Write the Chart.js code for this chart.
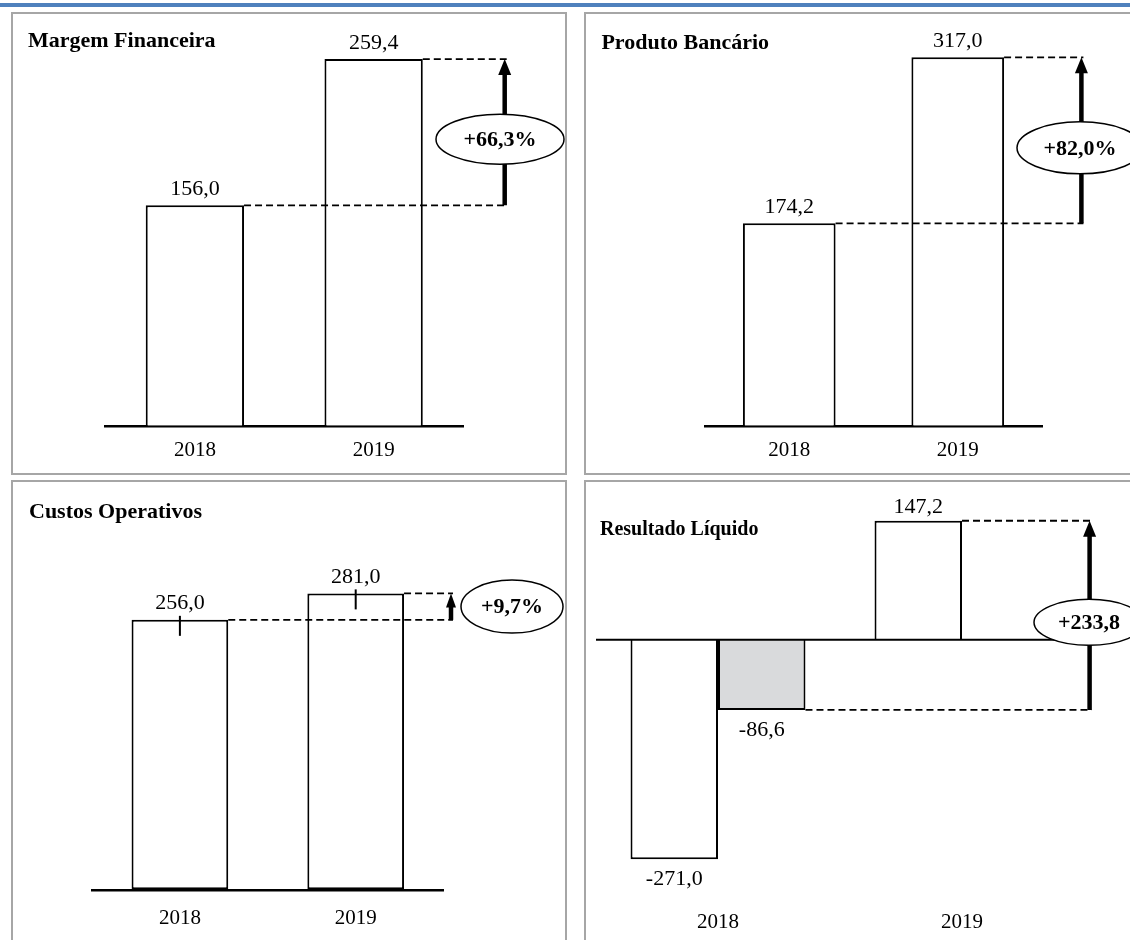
<!DOCTYPE html>
<html>
<head>
<meta charset="utf-8">
<script src="https://cdn.jsdelivr.net/npm/chart.js@4.4.1/dist/chart.umd.min.js"></script>
<style>
  html, body { margin: 0; padding: 0; background: #fff; overflow: hidden; width: 1130px; height: 940px; }
  #band { position: absolute; left: 0; top: 3px; width: 1130px; height: 4px; background: #4f81bd; }
  .panel { position: absolute; }
</style>
</head>
<body>
<div id="band"></div>
<div class="panel" style="left:11px;top:12px"><canvas id="margem" width="556" height="463"></canvas></div>
<div class="panel" style="left:584px;top:12px"><canvas id="produto" width="560" height="463"></canvas></div>
<div class="panel" style="left:11px;top:480px"><canvas id="custos" width="556" height="470"></canvas></div>
<div class="panel" style="left:584px;top:480px"><canvas id="resultado" width="560" height="470"></canvas></div>
<script>
const years = ['2018', '2019'];

const margemValues = [156.0, 259.4];
const produtoValues = [174.2, 317.0];
const custosValues = [256.0, 281.0];
const resultadoValues = [-271.0, 147.2];
const resultadoAjustado = [-86.6, null];

const margemChange = '+66,3%';
const produtoChange = '+82,0%';
const custosChange = '+9,7%';
const resultadoChange = '+233,8';

const SERIF = '"Liberation Serif", "Times New Roman", serif';

// 156.0 -> "156,0"
function fmt(v) {
  return v.toFixed(1).replace('.', ',');
}

// Frame, title, value labels and the variation arrow for each panel
const panelDecor = {
  id: 'panelDecor',
  beforeDraw(chart, args, o) {
    const ctx = chart.ctx;
    ctx.save();
    ctx.strokeStyle = '#a6a6a6';
    ctx.lineWidth = 2;
    ctx.strokeRect(1, 1, chart.width - 2, chart.height - 2);
    ctx.fillStyle = '#000';
    ctx.font = 'bold ' + o.titleSize + 'px ' + SERIF;
    ctx.textBaseline = 'alphabetic';
    ctx.fillText(o.title, o.titleX, o.titleY);
    ctx.restore();
  },
  afterDatasetsDraw(chart, args, o) {
    const ctx = chart.ctx;
    const area = chart.chartArea;
    const y = chart.scales.y;
    ctx.save();

    if (o.zeroLine) {
      ctx.beginPath();
      ctx.strokeStyle = '#000';
      ctx.lineWidth = 2;
      ctx.moveTo(area.left, y.getPixelForValue(0));
      ctx.lineTo(area.right, y.getPixelForValue(0));
      ctx.stroke();
    }

    // value labels above / below every bar
    ctx.fillStyle = '#000';
    ctx.strokeStyle = '#000';
    ctx.font = '22px ' + SERIF;
    ctx.textAlign = 'center';
    ctx.textBaseline = 'alphabetic';
    chart.data.datasets.forEach((ds, i) => {
      chart.getDatasetMeta(i).data.forEach((bar, j) => {
        const v = ds.data[j];
        if (v === null) return;
        if (v >= 0) ctx.fillText(fmt(v), bar.x, bar.y - o.labelGap);
        else ctx.fillText(fmt(v), bar.x, bar.y + 26);
        if (o.marks) {
          ctx.beginPath();
          ctx.lineWidth = 2;
          ctx.moveTo(bar.x, bar.y - 4);
          ctx.lineTo(bar.x, bar.y + 16);
          ctx.stroke();
        }
      });
    });

    const fromBar = chart.getDatasetMeta(o.from[0]).data[o.from[1]];
    const toBar = chart.getDatasetMeta(o.to[0]).data[o.to[1]];
    const yFrom = fromBar.y;
    const yTo = toBar.y;
    const ax = o.arrowX;

    // dashed guides from the bar tops to the arrow
    ctx.setLineDash([7, 4]);
    ctx.lineWidth = 1.8;
    ctx.beginPath();
    ctx.moveTo(fromBar.x + fromBar.width / 2, yFrom);
    ctx.lineTo(ax + 2, yFrom);
    ctx.moveTo(toBar.x + toBar.width / 2, yTo);
    ctx.lineTo(ax + 2, yTo);
    ctx.stroke();
    ctx.setLineDash([]);

    // arrow
    ctx.lineWidth = 4.5;
    ctx.beginPath();
    ctx.moveTo(ax, yFrom);
    ctx.lineTo(ax, yTo + o.headH - 1);
    ctx.stroke();
    ctx.beginPath();
    ctx.moveTo(ax, yTo);
    ctx.lineTo(ax - o.headW / 2, yTo + o.headH);
    ctx.lineTo(ax + o.headW / 2, yTo + o.headH);
    ctx.closePath();
    ctx.fill();

    // bubble with the change
    const ey = (yFrom + yTo) / 2 + o.ellipseDy;
    ctx.beginPath();
    ctx.ellipse(o.ellipseX, ey, o.rx, o.ry, 0, 0, Math.PI * 2);
    ctx.fillStyle = '#fff';
    ctx.fill();
    ctx.lineWidth = 1.5;
    ctx.stroke();
    ctx.fillStyle = '#000';
    ctx.font = 'bold 22px ' + SERIF;
    ctx.textBaseline = 'middle';
    ctx.fillText(o.change, o.ellipseX, ey + 1);

    ctx.restore();
  }
};

function whiteBars(values, extra) {
  return Object.assign({
    data: values,
    backgroundColor: '#ffffff',
    borderColor: '#000000',
    borderWidth: 2,
    barPercentage: 0.55,
    categoryPercentage: 1
  }, extra || {});
}

function buildChart(id, datasets, yMin, yMax, padding, tickPad, decor) {
  return new Chart(document.getElementById(id), {
    type: 'bar',
    data: { labels: years, datasets: datasets },
    options: {
      responsive: false,
      animation: false,
      layout: { padding: padding },
      plugins: {
        legend: { display: false },
        tooltip: { enabled: false },
        panelDecor: decor
      },
      scales: {
        x: {
          z: 1,
          grid: { display: false, drawTicks: false },
          border: { display: !decor.zeroLine, color: '#000', width: 2.5 },
          ticks: { color: '#000', padding: tickPad, font: { family: SERIF, size: 21 } }
        },
        y: { display: false, min: yMin, max: yMax }
      }
    },
    plugins: [panelDecor]
  });
}

buildChart('margem', [whiteBars(margemValues)], 0, 280,
  { left: 94.5, right: 104, top: 18, bottom: 0 }, 12,
  { title: 'Margem Financeira', titleX: 17, titleY: 34.7, titleSize: 22,
    from: [0, 0], to: [0, 1], arrowX: 493.7, headW: 13, headH: 16,
    ellipseX: 489, ellipseDy: 7, rx: 64, ry: 25, change: margemChange, labelGap: 10.5 });

buildChart('produto', [whiteBars(produtoValues)], 0, 340,
  { left: 121, right: 102, top: 18.6, bottom: 0 }, 12,
  { title: 'Produto Bancário', titleX: 17.4, titleY: 37, titleSize: 22,
    from: [0, 0], to: [0, 1], arrowX: 497.4, headW: 13, headH: 16,
    ellipseX: 496, ellipseDy: 7.5, rx: 63, ry: 26, change: produtoChange, labelGap: 10.5 });

buildChart('custos', [whiteBars(custosValues, {
    borderSkipped: false,
    borderWidth: { top: 2, left: 2, right: 2, bottom: 3.5 }
  })], 0, 360,
  { left: 81, right: 123.4, top: 29.8, bottom: 4.1 }, 15,
  { title: 'Custos Operativos', titleX: 18, titleY: 38.3, titleSize: 22,
    from: [0, 0], to: [0, 1], arrowX: 440, headW: 10, headH: 14,
    ellipseX: 501, ellipseDy: 0, rx: 51, ry: 26.5, change: custosChange, labelGap: 10.5,
    marks: true });

buildChart('resultado', [
    whiteBars(resultadoValues, { barPercentage: 1, categoryPercentage: 0.717 }),
    whiteBars(resultadoAjustado, { backgroundColor: '#d9dadc', barPercentage: 1, categoryPercentage: 0.717 })
  ], -315, 180,
  { left: 12, right: 60, top: 14.2, bottom: 0 }, 15,
  { title: 'Resultado Líquido', titleX: 16, titleY: 55, titleSize: 20,
    from: [1, 0], to: [0, 1], arrowX: 505.6, headW: 13, headH: 16,
    ellipseX: 505, ellipseDy: 7, rx: 55, ry: 23, change: resultadoChange, labelGap: 8,
    zeroLine: true });
</script>
</body>
</html>
